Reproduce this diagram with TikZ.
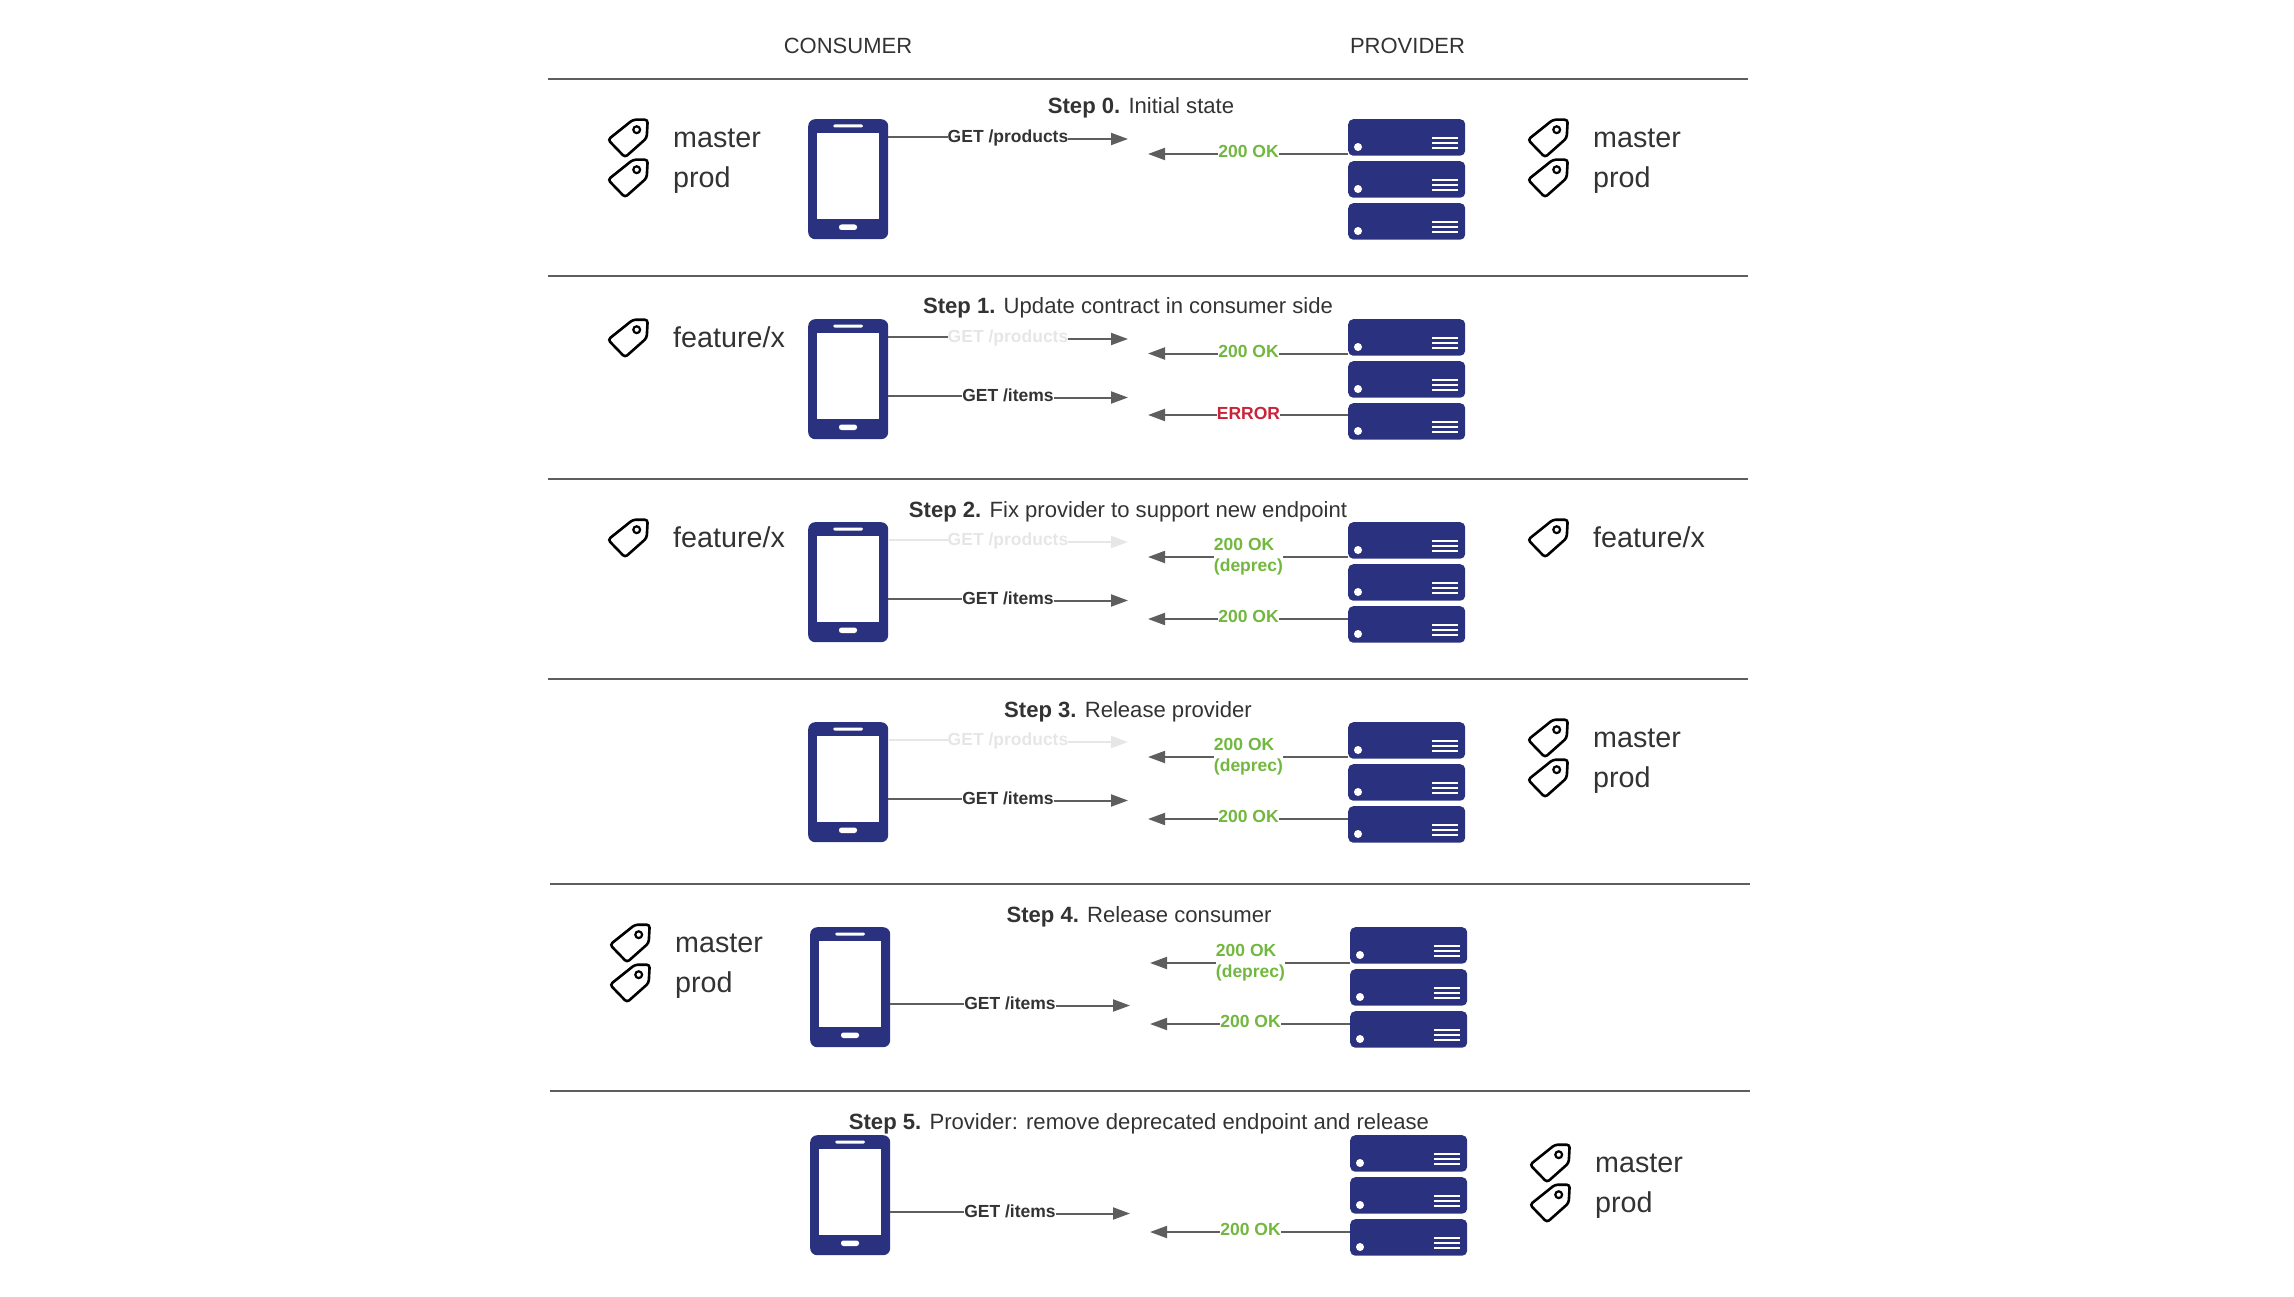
\documentclass[tikz,border=0pt]{standalone}
\usepackage{fontspec}
\setmainfont{Liberation Sans}
\usetikzlibrary{arrows.meta}

\definecolor{navy}{HTML}{2A3280}
\definecolor{ink}{HTML}{333333}
\definecolor{wiregrey}{HTML}{5E5E5E}
\definecolor{faintgrey}{HTML}{E6E6E6}
\definecolor{okgreen}{HTML}{72B740}
\definecolor{errred}{HTML}{C9243A}

\tikzset{
    phonebody/.style={fill=navy, rounded corners=7pt, anchor=north west, inner sep=0pt, minimum width=80pt, minimum height=120pt},
    serverbody/.style={fill=navy, rounded corners=5pt, anchor=north west, inner sep=0pt, minimum width=117pt, minimum height=36.5pt},
    rowrule/.style={draw=wiregrey, line width=2pt},
    wire/.style={line width=2pt},
    tipped/.style={-{Triangle[length=17pt,width=12pt]}},
    bigtext/.style={text=ink, inner sep=0pt, anchor=base west, font=\fontsize{28.7}{32}\selectfont},
    headtext/.style={text=ink, inner sep=0pt, anchor=base, font=\fontsize{22}{26}\selectfont},
    steptext/.style={text=ink, inner sep=0pt, anchor=base, font=\fontsize{22.1}{26}\selectfont},
    getlabel/.style={inner sep=0pt, anchor=base, font=\fontsize{17.5}{21}\selectfont\bfseries},
    replylabel/.style={inner sep=0pt, align=left, font=\fontsize{17.5}{21}\selectfont\bfseries},
    tagicon/.pic={
        \draw[black, line width=2.6pt, rounded corners=3pt] (25,0.7) -- (39.7,0.7) -- (38.7,19) -- (17,38.3) -- (0,20.7) -- cycle;
        \draw[black, line width=2.2pt] (28.7,10.7) circle (3.4);
    }
}

\begin{document}
\begin{tikzpicture}[x=1pt, y=-1pt]
        \useasboundingbox (0,0) rectangle (2294,1297);
        \node[headtext] (consumer) at (848,54) {CONSUMER};
        \node[headtext] (provider) at (1407.5,54) {PROVIDER};
        \foreach \xa/\xb/\y in {548/1748/79, 548/1748/276, 548/1748/479, 548/1748/679, 550/1750/884, 550/1750/1091}
            \draw[rowrule] (\xa,\y) -- (\xb,\y);
        \foreach \row/\x/\top in {0/808/119, 1/808/319, 2/808/522, 3/808/722, 4/810/927, 5/810/1135} {
            \node[phonebody] (phone\row) at (\x,\top) {};
            \fill[white] (\x+8.5,\top+14) rectangle (\x+71,\top+100);
            \fill[white, rounded corners=1.5pt] (\x+25,\top+5.5) rectangle (\x+55,\top+8.5);
            \fill[white, rounded corners=2.5pt] (\x+31,\top+105.5) rectangle (\x+49,\top+111);
            \foreach \s in {0,1,2} {
                \node[serverbody] (srv\row-\s) at (\x+540,\top+\s*42) {};
                \fill[white] (\x+550,\top+\s*42+28) circle (4);
                \foreach \l in {19,24,29}
                    \draw[white, line width=2.4pt] (\x+624,\top+\s*42+\l) -- (\x+650,\top+\s*42+\l);
            }
        }
        \foreach \row/\y/\x/\txt in {0/114/1141/Initial state, 1/313/1128/Update contract in consumer side, 2/517/1128/Fix provider to support new endpoint, 3/717/1128/Release provider, 4/922/1139/Release consumer, 5/1129/1139/Provider: remove deprecated endpoint and release}
            \node[steptext] (step\row) at (\x,\y) {\textbf{Step \row.} \txt};
        \foreach \x/\y/\base/\txt [count=\i] in {608/119/148/master, 608/159/188/prod, 1528/119/148/master, 1528/159/188/prod, 608/319/347/{feature/x}, 608/519/547/{feature/x}, 1528/519/547/{feature/x}, 1528/719/747/master, 1528/759/787/prod, 610/924/952/master, 610/964/992/prod, 1530/1144/1172/master, 1530/1184/1212/prod} {
            \pic at (\x,\y) {tagicon};
            \node[bigtext] (tag\i) at (\x+65,\base) {\txt};
        }
        \foreach \req/\row/\x/\top/\off/\txt/\txtcol/\linecol in {
            a/0/808/119/18/{GET /products}/ink/wiregrey,
            a/1/808/319/18/{GET /products}/faintgrey/wiregrey,
            b/1/808/319/76.5/{GET /items}/ink/wiregrey,
            a/2/808/522/18/{GET /products}/faintgrey/faintgrey,
            b/2/808/522/76.5/{GET /items}/ink/wiregrey,
            a/3/808/722/18/{GET /products}/faintgrey/faintgrey,
            b/3/808/722/76.5/{GET /items}/ink/wiregrey,
            b/4/810/927/76.5/{GET /items}/ink/wiregrey,
            b/5/810/1135/76.5/{GET /items}/ink/wiregrey} {
            \coordinate (\req\row out) at (\x+80,\top+\off);
            \coordinate (\req\row tip) at (\x+320,\top+\off+2);
            \node[getlabel, text=\txtcol] (\req\row) at (\x+200,\top+\off+5.7) {\txt};
            \draw[wire, draw=\linecol] (phone\row.east |- \req\row out) -- (\req\row.west |- \req\row out);
            \draw[wire, tipped, draw=\linecol, fill=\linecol] (\req\row.east |- \req\row tip) -- (\req\row tip);
        }
        \foreach \rep/\row/\s/\x/\top/\off/\lift/\txt/\txtcol in {
            c/0/0/808/119/35/3/{200 OK}/okgreen,
            c/1/0/808/319/34.5/2.5/{200 OK}/okgreen,
            d/1/2/808/319/96/2/{ERROR}/errred,
            c/2/0/808/522/35/0/{200 OK\\(deprec)}/okgreen,
            d/2/2/808/522/97/2.5/{200 OK}/okgreen,
            c/3/0/808/722/35/0/{200 OK\\(deprec)}/okgreen,
            d/3/2/808/722/97/2.5/{200 OK}/okgreen,
            c/4/0/810/927/36/0/{200 OK\\(deprec)}/okgreen,
            d/4/2/810/927/97/2.5/{200 OK}/okgreen,
            d/5/2/810/1135/97/2.5/{200 OK}/okgreen} {
            \coordinate (\rep\row tip) at (\x+340,\top+\off);
            \node[replylabel, text=\txtcol] (\rep\row) at (\x+440.5,\top+\off-\lift) {\txt};
            \draw[wire, draw=wiregrey] (srv\row-\s.west |- \rep\row tip) -- (\rep\row.east |- \rep\row tip);
            \draw[wire, tipped, draw=wiregrey, fill=wiregrey] (\rep\row.west |- \rep\row tip) -- (\rep\row tip);
        }
    \end{tikzpicture}
\end{document}
